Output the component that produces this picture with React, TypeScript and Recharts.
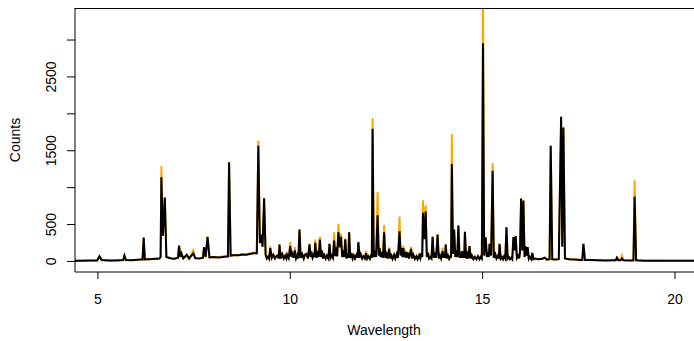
import { Line, LineChart, XAxis, YAxis } from "recharts";

// wavelength grid and the two spectra (10 values per line)
const wavelength = [
  4.4, 4.6, 4.8, 4.98, 5.04, 5.1, 5.3, 5.5, 5.66, 5.69,
  5.73, 5.9, 6.1, 6.16, 6.19, 6.22, 6.4, 6.6, 6.63, 6.65,
  6.69, 6.74, 6.78, 6.9, 7.0, 7.08, 7.11, 7.14, 7.17, 7.22,
  7.31, 7.37, 7.48, 7.53, 7.65, 7.73, 7.76, 7.8, 7.85, 7.9,
  8.0, 8.15, 8.3, 8.38, 8.41, 8.45, 8.55, 8.65, 8.75, 8.85,
  8.95, 9.05, 9.13, 9.17, 9.21, 9.24, 9.28, 9.32, 9.36, 9.39,
  9.42, 9.45, 9.48, 9.52, 9.56, 9.6, 9.64, 9.67, 9.7, 9.72,
  9.75, 9.79, 9.83, 9.87, 9.9, 9.92, 9.96, 10.0, 10.03, 10.05,
  10.09, 10.12, 10.15, 10.19, 10.21, 10.24, 10.27, 10.31, 10.35, 10.38,
  10.42, 10.46, 10.5, 10.53, 10.55, 10.58, 10.61, 10.63, 10.65, 10.68,
  10.71, 10.74, 10.77, 10.8, 10.82, 10.85, 10.88, 10.92, 10.95, 10.99,
  11.02, 11.05, 11.08, 11.11, 11.14, 11.17, 11.19, 11.22, 11.25, 11.29,
  11.32, 11.35, 11.38, 11.4, 11.43, 11.46, 11.49, 11.51, 11.53, 11.56,
  11.59, 11.62, 11.65, 11.68, 11.72, 11.75, 11.77, 11.8, 11.83, 11.87,
  11.9, 11.94, 11.97, 12.0, 12.03, 12.07, 12.1, 12.12, 12.14, 12.17,
  12.2, 12.23, 12.27, 12.3, 12.32, 12.35, 12.38, 12.41, 12.44, 12.47,
  12.5, 12.53, 12.57, 12.6, 12.63, 12.66, 12.7, 12.73, 12.77, 12.8,
  12.84, 12.87, 12.89, 12.92, 12.94, 12.97, 13.0, 13.02, 13.05, 13.09,
  13.14, 13.17, 13.2, 13.24, 13.28, 13.31, 13.35, 13.38, 13.4, 13.43,
  13.45, 13.49, 13.52, 13.55, 13.58, 13.61, 13.64, 13.67, 13.7, 13.73,
  13.76, 13.79, 13.83, 13.86, 13.89, 13.92, 13.96, 13.98, 14.0, 14.02,
  14.04, 14.07, 14.1, 14.13, 14.16, 14.18, 14.2, 14.23, 14.26, 14.29,
  14.31, 14.34, 14.37, 14.4, 14.42, 14.44, 14.46, 14.48, 14.5, 14.52,
  14.54, 14.57, 14.6, 14.63, 14.66, 14.69, 14.72, 14.76, 14.8, 14.84,
  14.88, 14.92, 14.95, 14.98, 15.01, 15.04, 15.08, 15.11, 15.13, 15.16,
  15.18, 15.22, 15.26, 15.29, 15.33, 15.36, 15.4, 15.42, 15.44, 15.47,
  15.5, 15.53, 15.56, 15.59, 15.62, 15.65, 15.68, 15.71, 15.74, 15.77,
  15.8, 15.83, 15.86, 15.89, 15.92, 15.95, 15.97, 16.0, 16.03, 16.06,
  16.09, 16.11, 16.14, 16.17, 16.2, 16.22, 16.26, 16.29, 16.32, 16.35,
  16.45, 16.55, 16.61, 16.67, 16.74, 16.77, 16.81, 16.9, 16.98, 17.04,
  17.07, 17.1, 17.14, 17.25, 17.4, 17.55, 17.59, 17.62, 17.66, 17.8,
  18.0, 18.2, 18.4, 18.46, 18.49, 18.53, 18.59, 18.62, 18.66, 18.85,
  18.92, 18.95, 18.99, 19.2, 19.5, 19.8, 20.1, 20.5,
];

const countsOrange = [
  10, 12, 10, 14, 60, 15, 12, 15, 18, 70,
  18, 20, 22, 25, 320, 30, 30, 40, 60, 1290,
  350, 865, 60, 45, 40, 50, 220, 60, 110, 40,
  85, 35, 150, 40, 45, 50, 195, 60, 335, 60,
  55, 60, 70, 70, 1345, 80, 90, 80, 100, 90,
  110, 120, 110, 1640, 250, 365, 200, 855, 90, 40,
  70, 35, 207, 50, 90, 40, 70, 90, 40, 230,
  40, 100, 40, 80, 40, 100, 45, 266, 60, 120,
  50, 193, 40, 90, 40, 432, 50, 100, 35, 90,
  110, 40, 243, 60, 150, 50, 100, 60, 297, 50,
  120, 60, 338, 60, 150, 40, 90, 40, 80, 40,
  239, 50, 80, 50, 396, 70, 200, 70, 509, 200,
  378, 60, 150, 60, 311, 40, 100, 50, 396, 50,
  120, 40, 80, 40, 90, 50, 261, 50, 100, 40,
  70, 40, 140, 40, 70, 35, 80, 50, 1941, 60,
  150, 60, 941, 80, 200, 60, 130, 50, 495, 50,
  100, 40, 190, 40, 80, 35, 90, 40, 110, 50,
  608, 80, 200, 60, 216, 60, 150, 50, 120, 40,
  198, 40, 90, 35, 70, 30, 90, 40, 120, 60,
  828, 350, 757, 60, 120, 40, 60, 40, 334, 50,
  120, 50, 365, 40, 80, 40, 185, 50, 100, 50,
  230, 40, 80, 35, 70, 50, 1725, 100, 432, 60,
  150, 60, 486, 50, 100, 50, 140, 50, 90, 50,
  401, 40, 100, 40, 207, 40, 80, 30, 70, 30,
  60, 30, 70, 40, 3700, 80, 328, 60, 150, 60,
  239, 80, 1333, 50, 100, 40, 80, 40, 239, 40,
  60, 30, 70, 40, 464, 40, 60, 30, 50, 30,
  329, 150, 343, 50, 80, 40, 120, 851, 150, 824,
  60, 207, 80, 193, 40, 60, 30, 117, 30, 40,
  30, 35, 50, 25, 30, 1567, 30, 25, 30, 1959,
  250, 1815, 40, 30, 25, 20, 20, 239, 20, 20,
  15, 12, 15, 15, 50, 15, 20, 81, 15, 12,
  15, 1099, 15, 10, 12, 8, 10, 8,
];

const countsBlack = [
  10, 8, 12, 14, 70, 18, 14, 12, 18, 80,
  20, 16, 25, 25, 325, 28, 32, 40, 60, 1140,
  350, 865, 60, 40, 38, 50, 210, 60, 110, 40,
  90, 40, 110, 45, 40, 50, 195, 60, 335, 55,
  60, 55, 65, 70, 1345, 80, 85, 85, 95, 90,
  100, 110, 110, 1567, 250, 365, 200, 855, 90, 40,
  60, 35, 180, 50, 90, 40, 70, 80, 40, 230,
  40, 100, 40, 80, 40, 90, 45, 207, 60, 110,
  50, 150, 40, 90, 40, 432, 50, 100, 40, 90,
  100, 40, 230, 60, 130, 50, 90, 60, 252, 50,
  110, 60, 297, 60, 150, 40, 90, 40, 80, 40,
  239, 50, 80, 50, 284, 70, 190, 70, 396, 190,
  334, 60, 150, 60, 300, 40, 100, 50, 396, 50,
  110, 40, 80, 40, 90, 50, 261, 50, 100, 40,
  70, 40, 110, 40, 70, 35, 80, 50, 1797, 60,
  150, 60, 626, 80, 180, 60, 130, 50, 396, 50,
  100, 40, 170, 40, 80, 35, 90, 40, 100, 50,
  410, 80, 180, 60, 180, 60, 130, 50, 120, 40,
  170, 40, 90, 35, 70, 30, 80, 40, 110, 60,
  658, 300, 676, 60, 120, 40, 60, 40, 334, 50,
  120, 50, 365, 40, 80, 40, 140, 50, 100, 50,
  230, 40, 80, 35, 70, 50, 1320, 100, 432, 60,
  150, 60, 486, 50, 100, 50, 140, 50, 90, 50,
  401, 40, 100, 40, 207, 40, 80, 30, 60, 30,
  70, 30, 60, 40, 2955, 80, 328, 60, 120, 60,
  239, 80, 1229, 50, 100, 40, 80, 40, 239, 40,
  60, 30, 70, 40, 464, 40, 60, 30, 50, 30,
  329, 150, 343, 50, 80, 40, 120, 851, 150, 824,
  60, 207, 80, 193, 40, 60, 30, 117, 30, 40,
  30, 35, 50, 25, 30, 1567, 30, 25, 30, 1959,
  200, 1815, 40, 30, 25, 20, 20, 239, 20, 18,
  15, 12, 15, 15, 50, 15, 15, 40, 15, 12,
  15, 878, 15, 10, 10, 10, 8, 8,
];

const xTicks = [5, 10, 15, 20];
const yTicks = [0, 500, 1000, 1500, 2000, 2500, 3000];
const yTickLabels = ["0", "500", "", "1500", "", "2500", ""];

const chartData = wavelength.map((w, i) => ({
  w,
  orange: countsOrange[i],
  black: countsBlack[i],
}));

const FONT = "'Liberation Sans', Arial, Helvetica, sans-serif";

const XTick = ({ x, y, payload }: any) => (
  <text x={x} y={y + 25} textAnchor="middle" fontSize={14} fontFamily={FONT} fill="#000">
    {payload.value}
  </text>
);

const YTick = ({ x, y, payload }: any) => {
  const label = yTickLabels[yTicks.indexOf(payload.value)] ?? "";
  const tx = x - 11;
  return (
    <text x={tx} y={y} transform={`rotate(-90 ${tx} ${y})`} textAnchor="middle" fontSize={14} fontFamily={FONT} fill="#000">
      {label}
    </text>
  );
};

export default function App() {
  return (
    <div style={{ position: "absolute", left: 0, top: 0, width: 694, height: 341, background: "#fff" }}>
      <LineChart width={694} height={341} data={chartData} margin={{ top: 8, right: 0, bottom: 0, left: 0 }}>
        <XAxis
          dataKey="w"
          type="number"
          domain={[4.405, 20.494]}
          allowDataOverflow
          ticks={xTicks}
          interval={0}
          height={69}
          tickSize={7}
          tickMargin={0}
          tick={<XTick />}
          axisLine={{ stroke: "#000" }}
          tickLine={{ stroke: "#000" }}
        />
        <YAxis
          type="number"
          domain={[-143, 3434]}
          allowDataOverflow
          ticks={yTicks}
          interval={0}
          width={75}
          tickSize={8}
          tickMargin={0}
          tick={<YTick />}
          axisLine={{ stroke: "#000" }}
          tickLine={{ stroke: "#000" }}
        />
        <Line type="linear" dataKey="orange" stroke="#FFA500" strokeWidth={2} dot={false} isAnimationActive={false} />
        <Line type="linear" dataKey="black" stroke="#000" strokeWidth={2} dot={false} isAnimationActive={false} />
      </LineChart>
      <svg width={694} height={341} style={{ position: "absolute", left: 0, top: 0, pointerEvents: "none" }}>
        <line x1={75} y1={8.5} x2={694} y2={8.5} stroke="#000" strokeWidth={1} />
        <text x={20} y={140} transform="rotate(-90 20 140)" textAnchor="middle" fontSize={14} fontFamily={FONT} fill="#000">
          Counts
        </text>
        <text x={384} y={335} textAnchor="middle" fontSize={14} fontFamily={FONT} fill="#000">
          Wavelength
        </text>
      </svg>
    </div>
  );
}
